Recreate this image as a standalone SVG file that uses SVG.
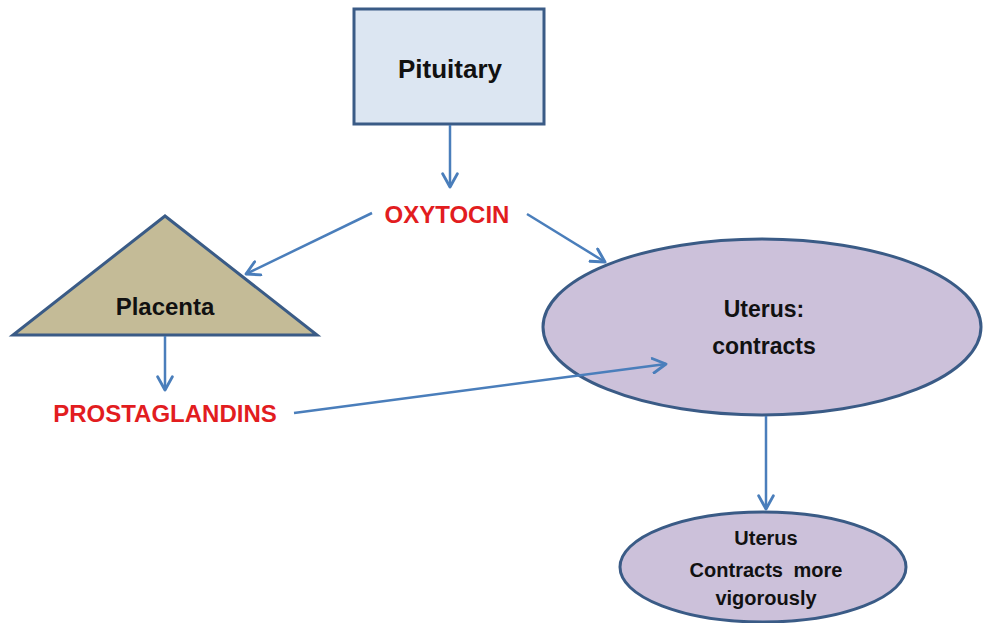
<svg xmlns="http://www.w3.org/2000/svg" width="984" height="623" viewBox="0 0 984 623">
<style>
.node{stroke:#3a5b86;stroke-width:3}
.lbl{font-family:"Liberation Sans",Arial,sans-serif;font-weight:bold;fill:#111;text-anchor:middle}
.red{font-family:"Liberation Sans",Arial,sans-serif;font-weight:bold;fill:#e21d1f;text-anchor:middle;font-size:24px}
.conn{stroke:#4a7ebb;stroke-width:2.5;fill:none;marker-end:url(#arr)}
</style>
<defs>
<marker id="arr" viewBox="0 0 12 12" refX="10" refY="6" markerWidth="7" markerHeight="7" orient="auto" markerUnits="strokeWidth">
<path d="M1,1 L10,6 L1,11" fill="none" stroke="#4a7ebb" stroke-width="2" stroke-linecap="round" stroke-linejoin="round"/>
</marker>
</defs>
<rect width="984" height="623" fill="#ffffff"/>
<g id="pituitary">
<rect class="node" x="354" y="9" width="190" height="115" fill="#dce6f2"/>
<text class="lbl" x="450" y="78" font-size="26">Pituitary</text>
</g>
<g id="oxytocin">
<text class="red" x="447" y="223">OXYTOCIN</text>
</g>
<g id="placenta">
<polygon class="node" points="165,216 13,335 317,335" fill="#c4bb97" stroke-linejoin="miter"/>
<text class="lbl" x="165" y="315" font-size="24">Placenta</text>
</g>
<g id="prostaglandins">
<text class="red" x="165" y="422">PROSTAGLANDINS</text>
</g>
<g id="uterus">
<ellipse class="node" cx="762" cy="327" rx="219" ry="88" fill="#ccc1da"/>
<text class="lbl" x="764" y="317" font-size="23">Uterus:</text>
<text class="lbl" x="764" y="354" font-size="23">contracts</text>
</g>
<g id="uterus-more">
<ellipse class="node" cx="763" cy="567" rx="143" ry="55" fill="#ccc1da"/>
<text class="lbl" x="766" y="545" font-size="20">Uterus</text>
<text class="lbl" x="766" y="577" font-size="20" word-spacing="5">Contracts more</text>
<text class="lbl" x="766" y="605" font-size="20">vigorously</text>
</g>
<g id="connectors">
<line class="conn" x1="450" y1="125" x2="450" y2="187"/>
<line class="conn" x1="372" y1="213" x2="246" y2="274"/>
<line class="conn" x1="527" y1="214" x2="605" y2="262"/>
<line class="conn" x1="165" y1="336" x2="165" y2="390"/>
<line class="conn" x1="294" y1="413" x2="666" y2="364"/>
<line class="conn" x1="766" y1="416" x2="766" y2="509"/>
</g>
</svg>
